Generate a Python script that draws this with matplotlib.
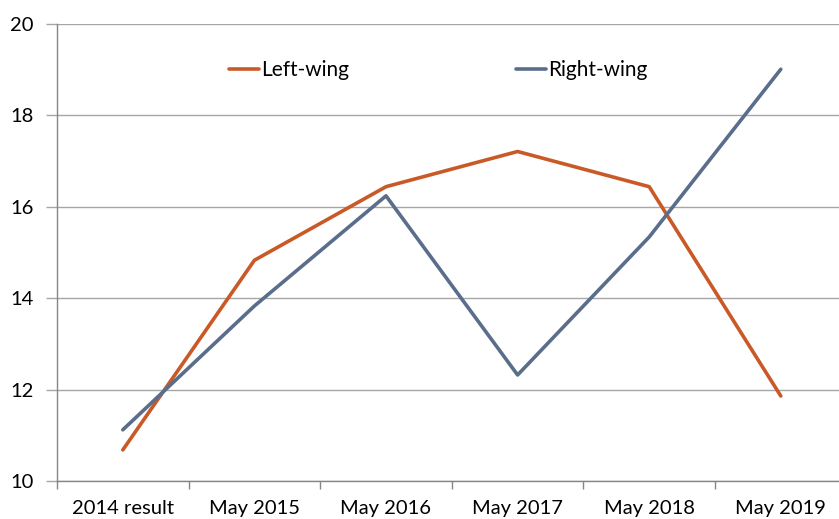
import matplotlib
matplotlib.use('Agg')
import matplotlib.pyplot as plt
import numpy as np

categories = ['2014 result', 'May 2015', 'May 2016', 'May 2017', 'May 2018', 'May 2019']
left_wing = [10.68, 14.83, 16.44, 17.21, 16.44, 11.86]
right_wing = [11.12, 13.83, 16.24, 12.32, 15.34, 19.01]

plt.rcParams['font.family'] = ['Lato', 'DejaVu Sans']

W, H = 839, 519
fig = plt.figure(figsize=(W / 100, H / 100), dpi=100)
# plot area is cut off on the right in the reference
ax = fig.add_axes([57 / W, 38 / H, 789.6 / W, 457 / H])

x = np.arange(len(categories))
ax.plot(x, left_wing, color='#C95A28', lw=2.6, solid_capstyle='round',
        solid_joinstyle='round', label='Left-wing')
ax.plot(x, right_wing, color='#5A6E8C', lw=2.6, solid_capstyle='round',
        solid_joinstyle='round', label='Right-wing')

ax.set_xlim(-0.5, len(categories) - 0.5)
ax.set_ylim(10, 20)
ax.set_yticks(np.arange(10, 21, 2))
ax.yaxis.grid(True, color='#A6A6A6', lw=1)
ax.set_axisbelow(True)

ax.set_xticks(x)
ax.set_xticklabels(categories)
ax.set_xticks(np.arange(-0.5, len(categories)), minor=True)
ax.tick_params(axis='x', which='major', length=0, pad=14, labelsize=14.5)
ax.tick_params(axis='x', which='minor', length=6, color='#868686', width=1)
ax.tick_params(axis='y', length=8, color='#A6A6A6', width=1, pad=9, labelsize=14.5)

for s in ['top', 'right']:
    ax.spines[s].set_visible(False)
for s in ['left', 'bottom']:
    ax.spines[s].set_color('#868686')
    ax.spines[s].set_linewidth(1)

leg = ax.legend(loc='center left', bbox_to_anchor=(229 / W, 1 - 70 / H),
                bbox_transform=fig.transFigure, ncol=2, frameon=False,
                handlelength=1.45, handletextpad=0.1, columnspacing=8.0,
                fontsize=15, borderaxespad=0, borderpad=0)

fig.savefig('out.png', dpi=100)
